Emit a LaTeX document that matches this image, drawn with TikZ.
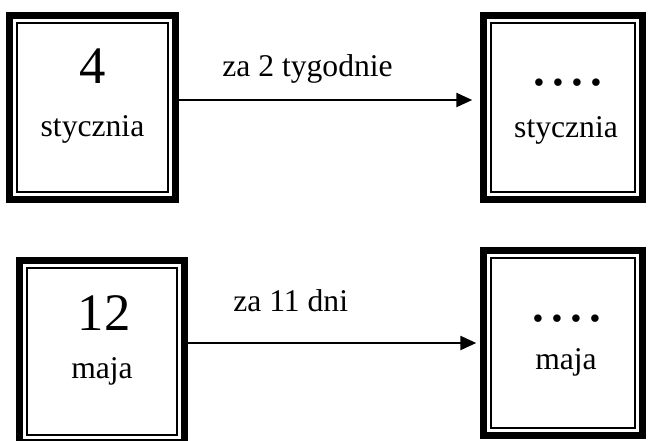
\documentclass[tikz,border=0pt]{standalone}
\usepackage{fontspec}
\setmainfont{Liberation Serif}
\usetikzlibrary{arrows.meta}
\newcommand{\fourdots}{.\kern0.05em.\kern0.05em.\kern0.05em.}

\begin{document}
\begin{tikzpicture}[x=0.02cm, y=-0.02cm,
  dayframe/.style={draw=black, line width=0.15cm, rectangle, inner sep=0pt,
    path picture={\draw[line width=0.04cm] ([shift={(0.155cm,-0.155cm)}]path picture bounding box.north west) rectangle ([shift={(-0.155cm,0.155cm)}]path picture bounding box.south east);}},
  daynum/.style={anchor=base, inner sep=0pt, font=\fontsize{30}{36}\selectfont},
  dotsline/.style={anchor=base, inner sep=0pt, font=\fontsize{36}{42}\selectfont},
  month/.style={anchor=base, inner sep=0pt, font=\fontsize{18}{22}\selectfont},
  steplabel/.style={anchor=base west, inner sep=0pt, font=\fontsize{18}{22}\selectfont},
  link/.style={draw=black, line width=0.05cm, -{Triangle[length=0.32cm, width=0.28cm]}}]
\useasboundingbox (0,0) rectangle (649,440);
% frames
\node[dayframe, minimum width=3.32cm, minimum height=3.68cm] (a) at (92.5,107.5) {};
\node[dayframe, minimum width=3.18cm, minimum height=3.68cm] (b) at (563,107.5) {};
\node[dayframe, minimum width=3.3cm, minimum height=3.64cm] (c) at (102,351.5) {};
\node[dayframe, minimum width=3.18cm, minimum height=3.7cm] (d) at (563,343) {};
% dates
\node[daynum] (n1) at (92.5,83) {4};
\node[month] (m1) at (92.5,136) {stycznia};
\node[dotsline] (n2) at (567.5,85) {\fourdots};
\node[month] (m2) at (566,137) {stycznia};
\node[daynum] (n3) at (104,330) {12};
\node[month] (m3) at (102,378) {maja};
\node[dotsline] (n4) at (566.5,321) {\fourdots};
\node[month] (m4) at (566,369) {maja};
% steps
\node[steplabel] (t1) at (222,76) {za 2 tygodnie};
\node[steplabel] (t2) at (233,311) {za 11 dni};
\draw[link, shorten >=0.15cm] ([yshift=0.15cm]a.east) -- ([yshift=0.15cm]b.west);
\draw[link, shorten >=0.07cm] (c.east |- d.west) -- (d.west);
\end{tikzpicture}
\end{document}
